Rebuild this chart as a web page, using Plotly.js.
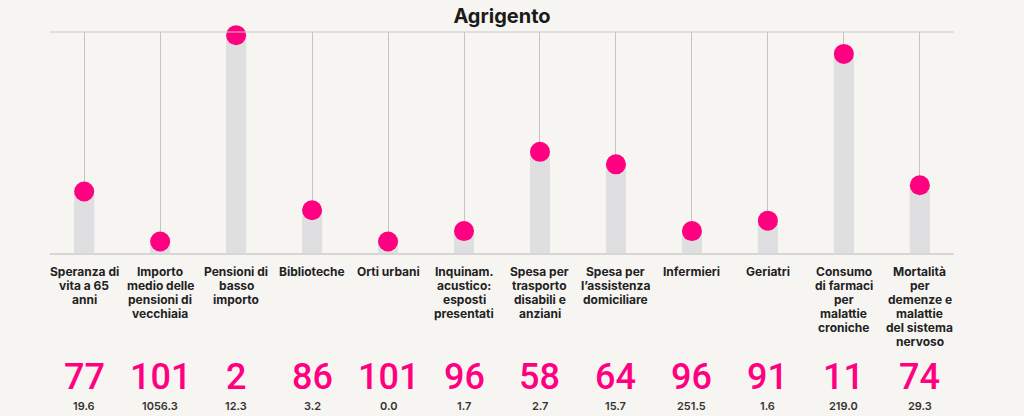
<!DOCTYPE html>
<html>
<head>
<meta charset="utf-8">
<script src="https://cdn.plot.ly/plotly-3.0.1.min.js"></script>
<style>
html,body{margin:0;padding:0;background:#f6f5f1;}
#chart{width:1024px;height:416px;}
</style>
</head>
<body>
<div id="chart"></div>
<script>
const titleText = "Agrigento";
const categories = [
  "Speranza di|vita a 65|anni",
  "Importo|medio delle|pensioni di|vecchiaia",
  "Pensioni di|basso|importo",
  "Biblioteche",
  "Orti urbani",
  "Inquinam.|acustico:|esposti|presentati",
  "Spesa per|trasporto|disabili e|anziani",
  "Spesa per|l’assistenza|domiciliare",
  "Infermieri",
  "Geriatri",
  "Consumo|di farmaci|per|malattie|croniche",
  "Mortalità|per|demenze e|malattie|del sistema|nervoso"
];
const scores = [30, 6, 105, 21, 6, 11, 49, 43, 11, 16, 96, 33];
const ranks = [77, 101, 2, 86, 101, 96, 58, 64, 96, 91, 11, 74];
const values = ["19.6", "1056.3", "12.3", "3.2", "0.0", "1.7", "2.7", "15.7", "251.5", "1.6", "219.0", "29.3"];

const PINK = "#ff0080";
const FONT = "Inter, 'Noto Sans', sans-serif";
const NUMFONT = "Roboto, Inter, sans-serif";
const xs = categories.map((c, i) => i);

// pixel -> paper helper (plot area from y=32 to y=254)
const TOP = 32, BOT = 254;
const py = p => (BOT - p) / (BOT - TOP);

const annotations = [];
categories.forEach((c, i) => {
  c.split("|").forEach((line, j) => {
    annotations.push({
      x: i, xref: "x", y: py(271.5 + 14 * j), yref: "paper",
      text: "<b>" + line + "</b>", showarrow: false,
      xanchor: "center", yanchor: "middle",
      font: {family: FONT, size: 12, color: "#222222"}
    });
  });
  annotations.push({
    x: i, xref: "x", y: py(376.5), yref: "paper",
    text: String(ranks[i]), showarrow: false,
    xanchor: "center", yanchor: "middle",
    font: {family: NUMFONT, size: 36, color: PINK, weight: 500}
  });
  annotations.push({
    x: i, xref: "x", y: py(406), yref: "paper",
    text: values[i], showarrow: false,
    xanchor: "center", yanchor: "middle",
    font: {family: FONT, size: 11, color: "#333333", weight: 600}
  });
});

const traces = [
  {
    type: "bar", x: xs, y: scores, width: 0.265,
    marker: {color: "#dfdfe1"}, hoverinfo: "skip"
  },
  {
    type: "scatter", mode: "markers", x: xs, y: scores,
    marker: {color: PINK, size: 20}, hoverinfo: "skip", cliponaxis: false
  }
];

const layout = {
  width: 1024, height: 416,
  paper_bgcolor: "#f6f5f1", plot_bgcolor: "#f6f5f1",
  margin: {l: 50, r: 70, t: TOP, b: 416 - BOT},
  showlegend: false,
  title: {
    text: "<b>" + titleText + "</b>",
    x: 0.5, xref: "paper", xanchor: "center",
    y: 1 - 16 / 416, yref: "container", yanchor: "middle",
    font: {family: FONT, size: 20, color: "#1a1a1a"}
  },
  xaxis: {
    range: [-0.45, 11.45], showgrid: true, gridcolor: "#c4c4c4", gridwidth: 1,
    zeroline: false, showticklabels: false, ticks: "", showline: false,
    tickvals: xs, fixedrange: true
  },
  yaxis: {
    range: [0, 106.5], showgrid: false, zeroline: false, showticklabels: false,
    ticks: "", showline: false, fixedrange: true
  },
  shapes: [
    {type: "line", xref: "paper", yref: "paper", x0: 0, x1: 1, y0: 1, y1: 1,
     line: {color: "#c8c8c8", width: 1}, layer: "above"},
    {type: "line", xref: "paper", yref: "paper", x0: 0, x1: 1, y0: 0, y1: 0,
     line: {color: "#d6d6d6", width: 2}, layer: "above"}
  ],
  annotations: annotations
};

Plotly.newPlot("chart", traces, layout, {displayModeBar: false, staticPlot: true});
</script>
</body>
</html>
